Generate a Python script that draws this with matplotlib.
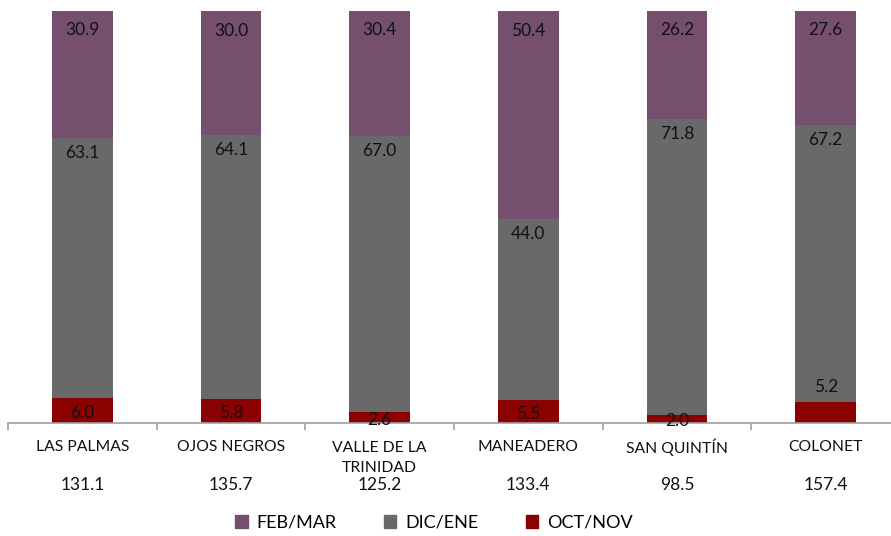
import matplotlib
matplotlib.use("Agg")
import matplotlib.pyplot as plt
from matplotlib.patches import Patch
import numpy as np

plt.rcParams['font.family'] = ['Lato', 'DejaVu Sans']

categories = ["LAS PALMAS", "OJOS NEGROS", "VALLE DE LA\nTRINIDAD", "MANEADERO", "SAN QUINTÍN", "COLONET"]
totals = ["131.1", "135.7", "125.2", "133.4", "98.5", "157.4"]
oct_nov = [6.0, 5.8, 2.6, 5.5, 2.0, 5.2]
dic_ene = [63.1, 64.1, 67.0, 44.0, 71.8, 67.2]
feb_mar = [30.9, 30.0, 30.4, 50.4, 26.2, 27.6]

c_red = "#8B0000"
c_gray = "#696969"
c_purple = "#74506E"

W, H = 891, 536
fig = plt.figure(figsize=(W/100, H/100), dpi=100)
ax = fig.add_axes([8/W, (H-423)/H, 892/W, 412/H])

x = np.arange(len(categories))
bw = 0.41
oct_arr = np.array(oct_nov)
dic_arr = np.array(dic_ene)
feb_arr = np.array(feb_mar)
ax.bar(x, oct_arr, bw, color=c_red, zorder=2)
ax.bar(x, dic_arr, bw, bottom=oct_arr, color=c_gray, zorder=2)
ax.bar(x, feb_arr, bw, bottom=oct_arr + dic_arr, color=c_purple, zorder=2)

ax.set_xlim(-0.5, len(categories) - 0.5)
ax.set_ylim(0, 100)
for s in ["top", "right", "left"]:
    ax.spines[s].set_visible(False)
ax.spines["bottom"].set_color("#A0A0A0")
ax.spines["bottom"].set_linewidth(1.2)
ax.set_yticks([])
ax.set_xticks(np.arange(len(categories) + 1) - 0.5)
ax.set_xticklabels([])
ax.tick_params(axis="x", direction="out", length=5, color="#A0A0A0", width=1.2)

px = 100 / 412.0  # data units per pixel
fs_num = 12.5
fs_cat = 11.3
fs_leg = 13

def label(xi, top, height, val, extra=0.0):
    off = min(15, height / px / 2 + 2) * px
    ax.text(xi, top - off + extra, f"{val:.1f}", ha="center", va="center",
            fontsize=fs_num, color="#111111", zorder=3)

for i in range(len(categories)):
    t1 = oct_arr[i]
    t2 = t1 + dic_arr[i]
    t3 = t2 + feb_arr[i]
    extra = 0.0
    if categories[i] == "COLONET":
        extra = 6.6
    label(x[i], t1, oct_arr[i], oct_arr[i], extra)
    label(x[i], t2, dic_arr[i], dic_arr[i])
    label(x[i], t3 - 1.0, feb_arr[i], feb_arr[i])

trans = ax.get_xaxis_transform()
for i, cat in enumerate(categories):
    if "\n" in cat:
        ypix = 458
    else:
        ypix = 447
    ax.text(x[i], -(ypix - 423) * px / 100, cat, ha="center", va="center",
            fontsize=fs_cat, color="#111111", transform=trans, linespacing=1.5)
    ax.text(x[i], -(485 - 423) * px / 100, totals[i], ha="center", va="center",
            fontsize=fs_num, color="#111111", transform=trans)

handles = [Patch(color=c_purple), Patch(color=c_gray), Patch(color=c_red)]
fig.legend(handles, ["FEB/MAR", "DIC/ENE", "OCT/NOV"], loc="center",
           bbox_to_anchor=(434/W, 1 - 523/H), ncol=3, frameon=False,
           fontsize=fs_leg, handlelength=0.7, handleheight=0.7, handletextpad=0.5,
           columnspacing=2.6)

fig.savefig("out.png", dpi=100)
